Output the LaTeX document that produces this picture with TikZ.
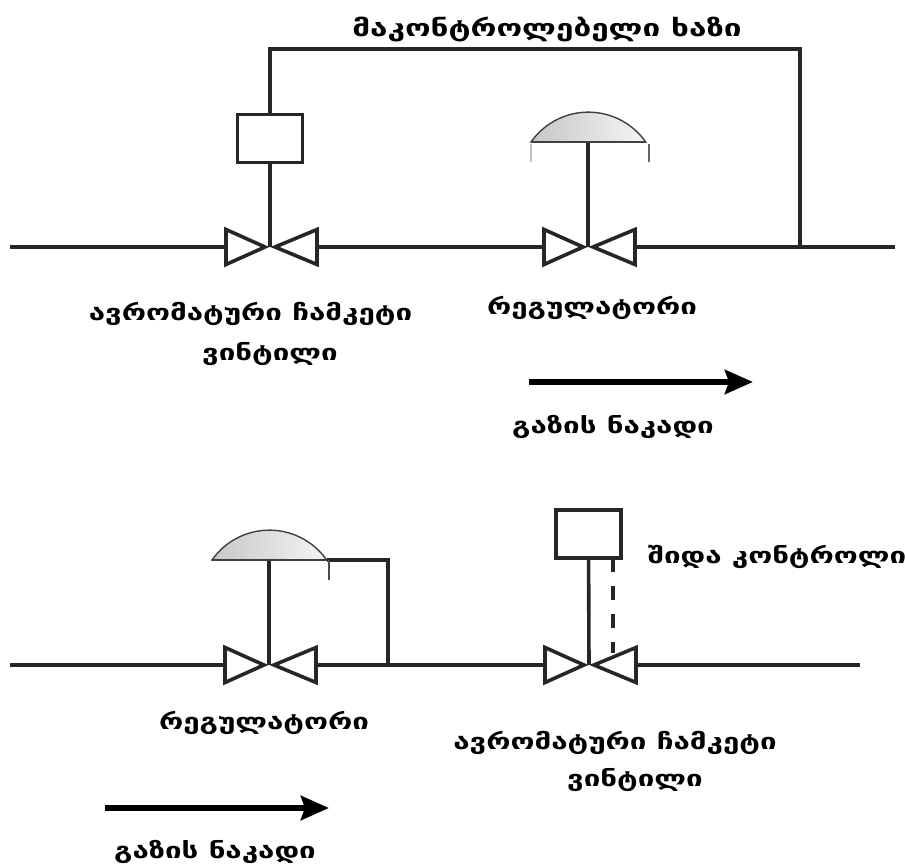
\documentclass[tikz,border=0pt]{standalone}
\usepackage{fontspec}
\usepackage{tikz}
\usetikzlibrary{positioning}
\usetikzlibrary{arrows.meta}
\newfontfamily\geofont[FakeStretch=1.34]{DejaVu Sans}
\newcommand{\valve}[1]{
\draw[valveline] (#1) ++(-0.5em,0) -- ++(-3.9em,1.75em) -- ++(0,-3.5em) -- cycle;
\draw[valveline] (#1) ++(0.5em,0) -- ++(4.2em,1.75em) -- ++(0,-3.5em) -- cycle;
\coordinate (#1W) at ([xshift=-4.4em]#1);
\coordinate (#1E) at ([xshift=4.7em]#1);
}
\newcommand{\dome}[1]{
\draw[domeline] ([xshift=-5.7em]#1) arc[start angle=145,end angle=35,radius=7em] -- cycle;
\draw[line width=0.28em,black!75] ([xshift=-5.7em]#1) -- ([xshift=5.8em]#1);
}

\begin{document}
\begin{tikzpicture}

\tikzstyle{pipe}=[line width=0.36em,black!85]
\tikzstyle{valveline}=[line width=0.36em,black!85,fill=white,line join=miter]
\tikzstyle{domeline}=[line width=0.14em,black!75,left color=black!22,right color=black!4]
\tikzstyle{tickline}=[line width=0.2em,black!45]
\tikzstyle{boxnode}=[draw=black!85,line width=0.36em,fill=white,minimum width=6.5em,minimum height=4.8em,inner sep=0pt]
\tikzstyle{flow}=[line width=0.6em,black,-{Stealth[inset=0.4em,length=2.8em,width=2.4em]}]
\tikzstyle{geo}=[font=\geofont\bfseries\fontsize{22}{24}\selectfont,inner sep=0pt,align=center]

\useasboundingbox (0em,0em) rectangle (90.5em,86.7em);

\coordinate (valveA) at (27em,62em);
\coordinate (valveB) at (58.8em,62em);
\coordinate (valveC) at (26.9em,20.2em);
\coordinate (valveD) at (58.9em,20.2em);

\coordinate (pipeTopL) at (1em,62em);
\coordinate (pipeTopR) at (89.5em,62em);
\coordinate (pipeBotL) at (1em,20.2em);
\coordinate (pipeBotR) at (86em,20.2em);
\coordinate (tapTop) at (80em,62em);
\coordinate (tapBot) at (38.8em,20.2em);
\coordinate (cornerA) at (27em,81.8em);
\coordinate (cornerB) at (80em,81.8em);
\coordinate (domeB) at (58.8em,72.5em);
\coordinate (domeC) at (26.9em,30.7em);
\coordinate (cornerC) at (38.8em,30.7em);
\coordinate (dashTop) at (61.3em,30.9em);
\coordinate (dashBot) at (61.3em,21.4em);
\coordinate (flowTopL) at (52.9em,48.5em);
\coordinate (flowTopR) at (75.3em,48.5em);
\coordinate (flowBotL) at (10.5em,5.9em);
\coordinate (flowBotR) at (32.9em,5.9em);

\valve{valveA}
\valve{valveB}
\valve{valveC}
\valve{valveD}

\draw[pipe] (pipeTopL) to (valveAW);
\draw[pipe] (valveAE) to (valveBW);
\draw[pipe] (valveBE) to (pipeTopR);
\draw[pipe] (pipeBotL) to (valveCW);
\draw[pipe] (valveCE) to (valveDW);
\draw[pipe] (valveDE) to (pipeBotR);

\node[boxnode] at (27em,72.85em) (boxA) {};
\node[boxnode] at (58.85em,33.3em) (boxD) {};

\draw[pipe] (valveA) to (boxA);
\draw[pipe,line join=miter] (boxA) -- (cornerA) -- (cornerB) -- (tapTop);
\draw[pipe] (valveB) to (domeB);
\draw[pipe] (valveC) to (domeC);
\draw[pipe,line join=miter] (domeC) ++(5.8em,0) -- (cornerC) -- (tapBot);
\draw[pipe] (valveD) to (boxD);
\draw[pipe,line width=0.45em,dash pattern=on 1.4em off 1.4em] (dashTop) to (dashBot);

\dome{domeB}
\dome{domeC}
\draw[tickline,black!25] (53.1em,72.3em) to (53.1em,70.5em);
\draw[tickline,black!60] (64.9em,72.3em) to (64.9em,70.5em);
\draw[tickline,black!70] (32.9em,30.7em) to (32.9em,28.7em);

\draw[flow] (flowTopL) to (flowTopR);
\draw[flow] (flowBotL) to (flowBotR);

\node[geo,font=\geofont\bfseries\fontsize{23.5}{25}\selectfont] at (54.7em,83.8em) (lineLabel) {მაკონტროლებელი ხაზი};
\node[geo] at (25.05em,55.3em) (shutLabelA) {ავრომატური ჩამკეტი};
\node[geo] at (27em,51.3em) (shutWordA) {ვინტილი};
\node[geo] at (59.2em,55.9em) (regLabelA) {რეგულატორი};
\node[geo] at (61.3em,44em) (flowLabelA) {გაზის ნაკადი};
\node[geo] at (77.7em,31em) (innerLabel) {შიდა კონტროლი};
\node[geo] at (26.4em,14.4em) (regLabelC) {რეგულატორი};
\node[geo] at (61.5em,12.4em) (shutLabelD) {ავრომატური ჩამკეტი};
\node[geo] at (63.5em,8.7em) (shutWordD) {ვინტილი};
\node[geo] at (21.5em,1.5em) (flowLabelC) {გაზის ნაკადი};

\end{tikzpicture}
\end{document}
